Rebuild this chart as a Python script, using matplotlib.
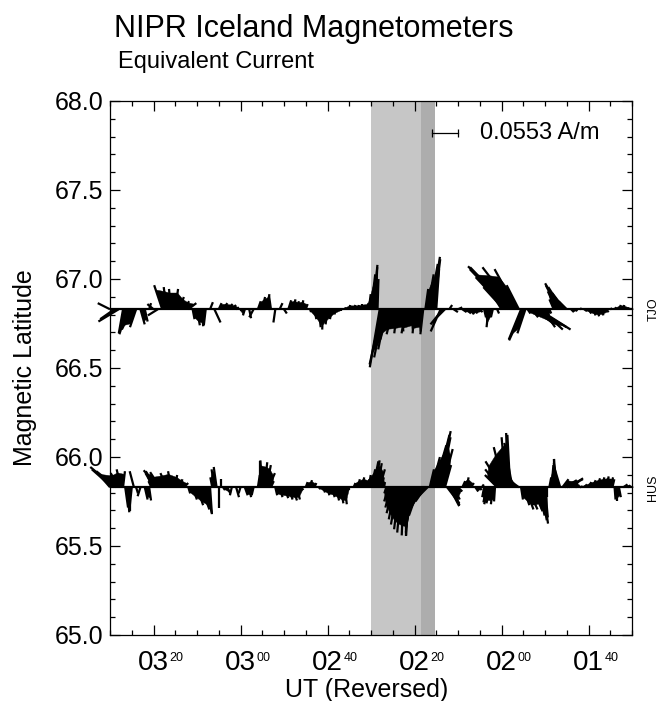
import matplotlib
matplotlib.use("Agg")
import matplotlib.pyplot as plt
import numpy as np
from matplotlib.collections import LineCollection, PolyCollection
from matplotlib.ticker import MultipleLocator

plt.rcParams["font.family"] = ["Liberation Sans", "DejaVu Sans"]

# ---- data (time in minutes after 00 UT, current components in mA/m: jx screen-right, jy up) ----
TICK_MIN = [200, 180, 160, 140, 120, 100]
TICK_HOUR = ["03", "03", "02", "02", "02", "01"]
TICK_SUP = ["20", "00", "40", "20", "00", "40"]
YTICKS = [65.0, 65.5, 66.0, 66.5, 67.0, 67.5, 68.0]

STATIONS = ["TJO", "HUS"]
STATION_LAT = [66.83, 65.83]

SHADE = (150.0, 135.2)
SHADE_DARK = (138.6, 135.2)
SCALE_AM = 0.0553

TJO_T = [210, 209, 208, 207, 206, 205, 204, 203, 202, 201, 200, 199, 198, 197, 196, 195,
         194, 193, 192, 191, 190, 189, 188, 187, 186, 185, 184, 183, 182, 181, 180, 179,
         178, 177, 176, 175, 174, 173, 172, 171, 170, 169, 168, 167, 166, 165, 164, 163,
         162, 161, 160, 159, 158, 157, 156, 155, 154, 153, 152, 151, 150.5, 150, 149.5,
         149, 148.5, 148, 147.5, 147, 146.5, 146, 145, 144, 143, 142, 141, 140, 139, 138,
         137.5, 137, 136.5, 136, 135.5, 135, 134, 133.5, 133, 132, 131, 130, 129, 128,
         127, 126, 125, 124, 123, 122, 121, 120, 119.5, 119, 118.5, 118, 117.5, 117,
         116.5, 116, 115.5, 115, 114.5, 114, 113, 112.5, 112, 111.5, 111, 110.5, 110,
         109, 108, 107.5, 107, 106.5, 106, 105.5, 105, 104, 103, 102, 101, 100, 99, 98,
         97, 96, 95, 94, 93, 92, 91, 90]
TJO_JX = [-26, -30, -43, -9, -17, -21, -13, 9, 6, 4, -13, -21, -17, -6, -4, 6,
          9, 11, 17, 4, 6, 4, -4, 6, 13, 6, 9, 11, 9, 6, 0, -4,
          4, -9, 6, 6, 6, -4, -4, 6, 6, 6, 6, 4, 4, 4, 2, 4,
          4, -2, -4, -4, -4, 0, 2, 2, 4, 2, 0, 4, 4, 9, 9,
          4, 2, -21, -26, -21, -17, -17, -13, -6, 4, -9, 6, -4, 4, -6,
          6, 13, 17, 17, 13, 6, -21, -26, -17, 6, 9, 9, 9, 9,
          6, 4, 6, 4, -4, -4, 4, -13, -43, -64, -81, -85, -94, -68,
          -47, -26, -26, -30, -17, 6, 13, 43, 64, 68, 47, 26, 9,
          4, -9, -17, -26, -32, -30, -26, -17, 6, 4, 4, 6, 6, 6, 4,
          4, 6, 4, 4, 4, 2, 2, 2]
TJO_JY = [13, -21, -26, -51, -53, -43, -38, -32, -26, 13, 11, -13, 51, 47, 43, 43,
          26, 17, 13, -21, -34, -36, -34, 15, -28, 13, 13, 11, 9, 4, -4, -13,
          -19, -17, 17, 26, 32, 28, -28, 13, -9, 19, 21, 17, 19, 11, -6, -21,
          -38, -43, -32, -21, -11, -4, 4, 9, 9, 9, 11, 13, 32, 74, 94,
          89, 64, -123, -117, -102, -85, -64, -53, -51, -47, -51, -43, -51, -47, -53,
          43, 74, 96, 111, 106, 85, -47, -32, -17, 9, -6, 4, -6, -9,
          -11, -9, -6, -17, -38, -17, -9, 21, 47, 68, 85, 89, 91, 89,
          85, 51, -64, -66, -51, -9, -17, -32, -38, -43, -43, -38, -13,
          -9, 21, 38, 51, 55, 47, 34, 17, -6, -4, 2, -4, -9, -13, -15,
          -13, -6, 2, 4, 9, 9, 4, 2]

HUS_T = [210, 209.5, 209, 208.5, 208, 207.5, 207, 206.5, 206, 205.5, 205, 204.5, 204,
         203, 202, 201, 200.5, 200, 199.5, 199, 198.5, 198, 197, 196, 195, 194, 193,
         192, 191, 190, 189, 188, 187, 186.5, 186, 185.5, 185, 184.5, 184, 183, 182,
         181, 180, 179, 178, 177, 176, 175.5, 175, 174.5, 174, 173.5, 173, 172, 171,
         170, 169, 168, 167, 166, 165, 164, 163, 162, 161, 160, 159, 158, 157, 156,
         155, 154, 153, 152, 151, 150.5, 150, 149.5, 149, 148.5, 148, 147.5, 147,
         146.5, 146, 145.5, 145, 144.5, 144, 143.5, 143, 142.5, 142, 141.5, 141,
         140.5, 140, 139.5, 139, 138.5, 138, 137.5, 137, 136.5, 136, 135.5, 135,
         134.5, 134, 133.5, 133, 132.5, 132, 131.5, 131, 130, 129, 128, 127, 126,
         125, 124.5, 124, 123.5, 123, 122.5, 122, 121.5, 121, 120.5, 120, 119.5,
         119, 118.5, 118, 117.5, 117, 116.5, 116, 115.5, 115, 114.5, 114, 113.5,
         113, 112.5, 112, 111.5, 111, 110.5, 110, 109.5, 109, 108.5, 108, 107.5,
         107, 106.5, 106, 105.5, 105, 104.5, 104, 103, 102, 101, 100, 99, 98, 97,
         96, 95, 94.5, 94, 93.5, 93, 92, 91, 90]
HUS_JX = [-26, -43, -51, -43, -17, -9, 4, 6, 4, 0, -4, -9, 4,
          -6, 6, 4, -6, -17, -21, -30, -21, -26, -13, -6, 4, 6, 9,
          4, 9, 13, 17, 13, 4, -4, -6, -6, 0, 0, 4, 6, -4,
          6, -4, 6, 4, -4, 4, 0, -4, 6, 9, 13, 6, 4, 6,
          9, 9, 9, 6, 4, 4, 4, 4, 4, 4, 4, 6, 6, 6, 4,
          0, 4, 4, 4, 6, 4, 9, 11, 9, 9, 11, 4, 2,
          -4, -9, -11, -13, -13, -13, -11, -9, -4, 0, -4, -9,
          -13, -17, -21, -21, -26, -26, -21, -17, 9, 17, 26, 28,
          26, 21, 21, 13, 26, 21, 17, 13, 9, 6, 4, 6, 6,
          4, 4, -4, -6, -9, -9, -4, -2, -26, -30, -34, -21,
          -9, -4, -6, -17, -34, -43, -47, 4, 13, 17, 21, 26,
          21, 17, 13, 13, 13, 11, 6, 0, 4, 4, 0, -4,
          -9, -13, 13, 26, 34, 30, 17, 9, 6, 6, 6, 6, 6, 6,
          6, 6, 4, 2, 0, 4, 9, 6, 2]
HUS_JY = [30, 38, 43, 34, 30, 38, 34, -43, -53, -51, -38, 34, -13,
          -19, -26, -28, 13, 30, 34, 36, 32, 26, 30, 34, 26, 17, 9,
          -13, -26, -38, -47, -55, -57, 21, 38, 43, -43, 17, -6, -13, -17,
          -21, -13, -17, -21, -17, 26, 55, 57, 53, 47, 30, 13, -17, -21,
          -23, -26, -28, -26, -6, 11, 15, 9, -4, -11, -17, -21, -28, -34, -36,
          -6, 9, 17, 21, 17, 26, 38, 55, 57, 51, 38, 21, 11,
          -13, -30, -43, -55, -68, -79, -89, -96, -102, -104, -102, -96,
          -85, -77, -68, -60, -51, -43, -30, -17, 38, 64, 89, 111,
          119, 106, 81, 47, -34, -40, -38, -26, -9, 13, 21, 9, -9,
          -6, 6, -21, -32, -36, -34, -36, -30, 26, 38, 55, 85,
          106, 115, 111, 94, 72, 51, 34, -26, -38, -47, -47, -43,
          -47, -43, -51, -60, -70, -77, -64, -21, 21, 47, 60, 60,
          51, 43, 17, 15, 17, 19, 13, 4, 2, 6, 11, 15, 19, 21,
          23, 21, 17, -26, -30, -21, 6, 4, 2]


def main():
    fig = plt.figure(figsize=(6.59, 7.01), dpi=100)
    left, bottom, width, height = 110 / 659, 66 / 701, 522 / 659, 534 / 701
    ax = fig.add_axes([left, bottom, width, height])
    t0, t1 = 210, 90
    ax.set_xlim(t0, t1)
    ax.set_ylim(65.0, 68.0)

    # pixel scale, so that the vectors keep equal x/y scaling
    px_min = width * 659 / (t0 - t1)
    px_deg = height * 701 / 3.0
    bar_min = 6.0
    bar_px = bar_min * px_min

    ax.axvspan(*SHADE, color="#c6c6c6", lw=0, zorder=0)
    ax.axvspan(*SHADE_DARK, color="#adadad", lw=0, zorder=0)

    data = {"TJO": (TJO_T, TJO_JX, TJO_JY), "HUS": (HUS_T, HUS_JX, HUS_JY)}
    for name, lat in zip(STATIONS, STATION_LAT):
        t, jx, jy = (np.asarray(a, float) for a in data[name])
        dx = -(jx / (SCALE_AM * 1000) * bar_px) / px_min
        dy = (jy / (SCALE_AM * 1000) * bar_px) / px_deg
        tx, ty = t + dx, lat + dy
        ang = np.degrees(np.arctan2(jy, jx))
        segs = [[(t[i], lat), (tx[i], ty[i])] for i in range(len(t))]
        # solid core of the sweep between neighbouring, nearly parallel vectors
        polys = []
        for i in range(len(t) - 1):
            dang = abs((ang[i] - ang[i + 1] + 180) % 360 - 180)
            if t[i] - t[i + 1] <= 1.01 and dang < 28:
                f = 0.8
                polys.append([(t[i], lat), (t[i] + f * dx[i], lat + f * dy[i]),
                              (t[i + 1] + f * dx[i + 1], lat + f * dy[i + 1]), (t[i + 1], lat)])
        ax.add_collection(PolyCollection(polys, facecolor="black", edgecolor="black",
                                         lw=0.3, clip_on=False, zorder=3))
        ax.add_collection(LineCollection(segs, colors="black", lw=1.6, capstyle="butt",
                                         clip_on=False, zorder=3))
        ax.hlines(lat, t.max(), t.min(), color="black", lw=1.6, zorder=4)
        ax.text(1.041, lat, name, transform=ax.get_yaxis_transform(), rotation=90,
                ha="center", va="center", fontsize=9)

    # scale bar
    ax.plot([136, 136 - bar_min], [67.82, 67.82], color="black", lw=0.9,
            marker="|", markersize=6, markeredgewidth=0.9)
    ax.text(125, 67.82, f"{SCALE_AM:.4f} A/m", ha="left", va="center", fontsize=17)

    # axes styling
    ax.set_yticks(YTICKS)
    ax.set_yticklabels([f"{v:.1f}" for v in YTICKS])
    ax.yaxis.set_minor_locator(MultipleLocator(0.1))
    ax.set_xticks(TICK_MIN)
    ax.set_xticklabels(TICK_HOUR)
    ax.xaxis.set_minor_locator(MultipleLocator(5))
    ax.tick_params(which="both", direction="in", top=True, right=True, width=0.9)
    ax.tick_params(which="major", length=7)
    ax.tick_params(which="minor", length=3.5)
    ax.tick_params(axis="y", labelsize=18, pad=5)
    ax.tick_params(axis="x", labelsize=20, pad=11)
    for sp in ax.spines.values():
        sp.set_linewidth(0.9)
    for t, s in zip(TICK_MIN, TICK_SUP):
        ax.annotate(s, xy=(t, 0), xycoords=ax.get_xaxis_transform(), xytext=(11.5, -12),
                    textcoords="offset points", ha="left", va="top", fontsize=9)

    fig.text(0.557, 1 - 697 / 701, "UT (Reversed)", ha="center", va="baseline", fontsize=18)
    fig.text(0.038, 0.475, "Magnetic Latitude", rotation=90, ha="center", va="center", fontsize=18)
    fig.text(114 / 659, 1 - 37 / 701, "NIPR Iceland Magnetometers", ha="left", va="baseline", fontsize=22)
    fig.text(118 / 659, 1 - 68 / 701, "Equivalent Current", ha="left", va="baseline", fontsize=17)

    fig.savefig("out.png", dpi=100)
    plt.close(fig)


if __name__ == "__main__":
    main()
